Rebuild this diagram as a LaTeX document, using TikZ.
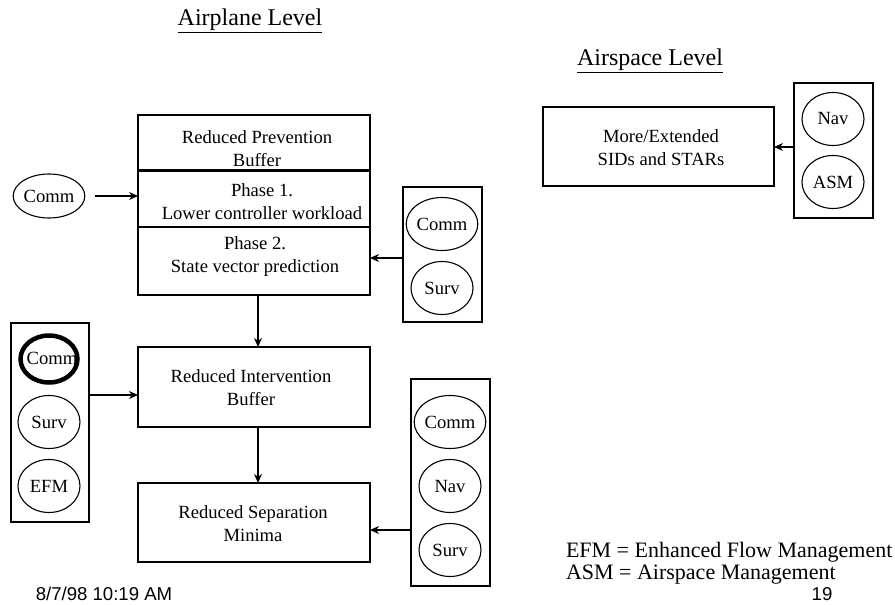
\documentclass[tikz,border=0pt]{standalone}
\usepackage{fontspec}
\setmainfont{Liberation Serif}
\newfontfamily\footfont{Liberation Sans}
\usetikzlibrary{shapes.geometric,arrows.meta}

\begin{document}
\begin{tikzpicture}[x=1pt,y=-1pt,
  every node/.style={font=\fontsize{18.6}{23}\selectfont, inner sep=0pt, outer sep=0pt},
  box/.style={draw, line width=1.3pt, minimum width=232pt},
  holder/.style={draw, line width=1.3pt, minimum width=79pt},
  tool/.style={draw, ellipse, line width=1.1pt, minimum width=62pt, minimum height=53pt},
  btxt/.style={align=center},
  title/.style={font=\fontsize{24}{28}\selectfont},
  legend/.style={anchor=west, font=\fontsize{22}{26}\selectfont},
  foot/.style={font=\footfont\fontsize{18.6}{22}\selectfont},
  arr/.style={line width=1.3pt, -{Stealth[length=9pt,width=8pt]}}]
\useasboundingbox (0,0) rectangle (895,605);

% level headings
\node[title] (t1) at (250,21) {\underline{Airplane Level}};
\node[title] (t2) at (650,61) {\underline{Airspace Level}};

% main chain of buffers
\node[box, minimum height=55pt] (prev) at (254,142.5) {};
\node[box, minimum height=57pt] (ph1) at (254,198.5) {};
\node[box, minimum height=68pt] (ph2) at (254,261) {};
\draw[line width=3pt] (prev.south west) -- (prev.south east);
\node[btxt] (prevt) at (257,149) {Reduced Prevention\\Buffer};
\node[btxt] (ph1t) at (262,202) {Phase 1.\\Lower controller workload};
\node[btxt] (ph2t) at (255,257) {Phase 2.\\State vector prediction};

\node[box, minimum height=80pt] (rib) at (254,387) {};
\node[btxt] (ribt) at (251,388) {Reduced Intervention\\Buffer};
\node[box, minimum height=79pt] (rsm) at (254,522.5) {};
\node[btxt] (rsmt) at (253,524) {Reduced Separation\\Minima};

% airspace box
\node[box, minimum width=231pt, minimum height=79pt] (more) at (658.5,146.5) {};
\node[btxt] (moret) at (661,148) {More/Extended\\SIDs and STARs};

% enabling technologies
\node[tool, minimum height=44pt] (comm0) at (49,196) {Comm};

\node[holder, minimum height=135pt] (rb1) at (442.5,254.5) {};
\node[tool] (rb1a) at (442,224) {Comm};
\node[tool] (rb1b) at (442,288) {Surv};

\node[holder, minimum width=78pt, minimum height=199pt] (lb) at (50,422.5) {};
\node[draw, ellipse, line width=4.5pt, minimum width=57pt, minimum height=47pt] (lba) at (49,359) {};
\node (lbat) at (52,358) {Comm};
\node[tool] (lbb) at (49,422) {Surv};
\node[tool] (lbc) at (49,486) {EFM};

\node[holder, minimum height=207pt] (rb2) at (450.5,482.5) {};
\node[tool] (rb2a) at (450,422) {Comm};
\node[tool] (rb2b) at (450,486) {Nav};
\node[tool] (rb2c) at (450,550) {Surv};

\node[holder, minimum height=135pt] (ab) at (833.5,150.5) {};
\node[tool] (aba) at (833,119) {Nav};
\node[tool] (abb) at (833,182) {ASM};

% connectors
\draw[arr] ([xshift=10pt]comm0.east) -- (comm0.east -| ph1.west);
\draw[arr] ([yshift=-3.5pt]rb1.west) -- ([yshift=-3.5pt]rb1.west -| ph2.east);
\draw[arr] ([xshift=4pt]ph2.south) -- ([xshift=4pt]rib.north);
\draw[arr] ([yshift=27.5pt]lb.east) -- ([yshift=27.5pt]lb.east -| rib.west);
\draw[arr] ([xshift=4pt]rib.south) -- ([xshift=4pt]rsm.north);
\draw[arr] ([yshift=-47.5pt]rb2.west) -- ([yshift=-47.5pt]rb2.west -| rsm.east);
\draw[arr] ([yshift=3.5pt]ab.west) -- ([yshift=3.5pt]ab.west -| more.east);

% legend
\node[legend] (leg1) at (566,552) {EFM = Enhanced Flow Management};
\node[legend] (leg2) at (566,575) {ASM = Airspace Management};

% footer
\node[foot] (date) at (104,594) {8/7/98 10:19 AM};
\node[foot] (page) at (822,594) {19};
\end{tikzpicture}
\end{document}
